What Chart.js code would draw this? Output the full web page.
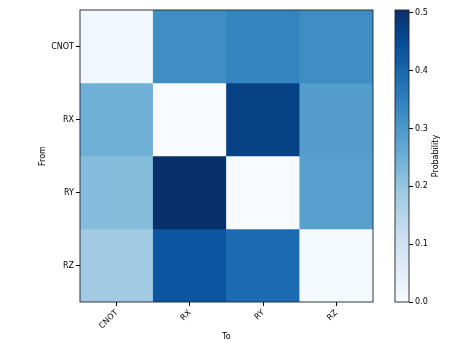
<!DOCTYPE html>
<html>
<head>
<meta charset="utf-8">
<script src="https://cdn.jsdelivr.net/npm/chart.js@4/dist/chart.umd.min.js"></script>
<style>
  html, body { margin: 0; padding: 0; background: #fff; }
  #wrap { position: relative; width: 468px; height: 351px; }
  canvas { position: absolute; left: 0; top: 0; }
</style>
</head>
<body>
<div id="wrap">
  <canvas id="main" width="468" height="351"></canvas>
  <canvas id="cbar" width="468" height="351"></canvas>
</div>
<script>
// ---- data ----
const fromLabels = ["CNOT", "RX", "RY", "RZ"];
const toLabels = ["CNOT", "RX", "RY", "RZ"];
const rowCNOT = [0.015, 0.323, 0.343, 0.323];
const rowRX   = [0.247, 0.000, 0.470, 0.288];
const rowRY   = [0.218, 0.505, 0.000, 0.285];
const rowRZ   = [0.185, 0.432, 0.390, 0.005];
const rows = [rowCNOT, rowRX, rowRY, rowRZ];
const cbTicks = [0.0, 0.1, 0.2, 0.3, 0.4, 0.5];
const cbTitle = "Probability";
const xTitle = "To";
const yTitle = "From";

const vmin = 0;
const vmax = Math.max(...rows.flat());

// matplotlib "Blues" colormap stops
const BLUES = ["#f7fbff","#deebf7","#c6dbef","#9ecae1","#6baed6","#4292c6","#2171b5","#08519c","#08306b"];
function hex2rgb(h){ return [parseInt(h.slice(1,3),16), parseInt(h.slice(3,5),16), parseInt(h.slice(5,7),16)]; }
function blues(t){
  t = Math.max(0, Math.min(1, t));
  const p = t * (BLUES.length - 1);
  const i = Math.min(Math.floor(p), BLUES.length - 2);
  const f = p - i;
  const a = hex2rgb(BLUES[i]), b = hex2rgb(BLUES[i+1]);
  const c = a.map((v, k) => Math.round(v + (b[k] - v) * f));
  return `rgb(${c[0]},${c[1]},${c[2]})`;
}

const FONT = { family: "'DejaVu Sans', sans-serif", size: 8 };
const TXT = "#000";

const framePlugin = {
  id: 'frame',
  afterDatasetsDraw(chart) {
    const a = chart.chartArea, ctx = chart.ctx;
    ctx.save();
    ctx.strokeStyle = '#222';
    ctx.lineWidth = 0.9;
    ctx.strokeRect(a.left, a.top, a.right - a.left, a.bottom - a.top);
    ctx.restore();
  }
};

// ---- heatmap chart ----
const datasets = rows.map((vals, i) => ({
  label: fromLabels[i],
  data: vals.map(() => [i - 0.5, i + 0.5]),
  backgroundColor: vals.map(v => blues((v - vmin) / (vmax - vmin))),
  borderWidth: 0,
  barPercentage: 1,
  categoryPercentage: 1,
  grouped: false
}));

new Chart(document.getElementById('main'), {
  type: 'bar',
  data: { labels: toLabels, datasets },
  options: {
    responsive: false,
    animation: false,
    events: [],
    layout: { padding: { top: 10, right: 95, left: 0, bottom: 0 } },
    plugins: { legend: { display: false }, tooltip: { enabled: false } },
    scales: {
      x: {
        type: 'category',
        grid: { offset: false, drawOnChartArea: false, drawTicks: true, tickLength: 4, color: '#000' },
        border: { display: false },
        ticks: { color: TXT, font: FONT, minRotation: 45, maxRotation: 45, autoSkip: false, padding: 2 },
        title: { display: true, text: xTitle, color: TXT, font: FONT, padding: { top: 0, bottom: 9.5 } },
        afterFit(scale) { scale.height = 49; }
      },
      y: {
        type: 'linear',
        reverse: true,
        min: -0.5,
        max: fromLabels.length - 0.5,
        afterBuildTicks(scale) { scale.ticks = fromLabels.map((_, i) => ({ value: i })); },
        grid: { drawOnChartArea: false, drawTicks: true, tickLength: 4, color: '#000' },
        border: { display: false },
        ticks: { color: TXT, font: FONT, padding: 2, callback: v => fromLabels[v] },
        title: { display: true, text: yTitle, color: TXT, font: FONT, padding: { top: 38.5, bottom: 0 } },
        afterFit(scale) { scale.width = 80; }
      }
    }
  },
  plugins: [framePlugin]
});

// ---- colorbar chart ----
const cbTitlePlugin = {
  id: 'cbTitle',
  afterDraw(chart) {
    const a = chart.chartArea, ctx = chart.ctx;
    ctx.save();
    ctx.fillStyle = TXT;
    ctx.font = "8px 'DejaVu Sans', sans-serif";
    ctx.textAlign = 'center';
    ctx.textBaseline = 'middle';
    ctx.translate(a.right + 26.5, (a.top + a.bottom) / 2);
    ctx.rotate(-Math.PI / 2);
    ctx.fillText(cbTitle, 0, 0);
    ctx.restore();
  }
};

new Chart(document.getElementById('cbar'), {
  type: 'bar',
  data: {
    labels: [''],
    datasets: [{
      data: [[vmin, vmax]],
      borderWidth: 0,
      barPercentage: 1,
      categoryPercentage: 1,
      backgroundColor(ctx) {
        const area = ctx.chart.chartArea;
        if (!area) return BLUES[4];
        const g = ctx.chart.ctx.createLinearGradient(0, area.bottom, 0, area.top);
        for (let k = 0; k <= 40; k++) g.addColorStop(k / 40, blues(k / 40));
        return g;
      }
    }]
  },
  options: {
    responsive: false,
    animation: false,
    events: [],
    layout: { padding: { top: 10, right: 0, left: 395, bottom: 49 } },
    plugins: { legend: { display: false }, tooltip: { enabled: false } },
    scales: {
      x: { display: false },
      y: {
        position: 'right',
        min: vmin,
        max: vmax,
        afterBuildTicks(scale) { scale.ticks = cbTicks.map(v => ({ value: v })); },
        grid: { drawOnChartArea: false, drawTicks: true, tickLength: 4, color: '#000' },
        border: { display: false },
        ticks: { color: TXT, font: FONT, padding: 2, callback: v => Number(v).toFixed(1) },
        afterFit(scale) { scale.width = 59; }
      }
    }
  },
  plugins: [framePlugin, cbTitlePlugin]
});
</script>
</body>
</html>
